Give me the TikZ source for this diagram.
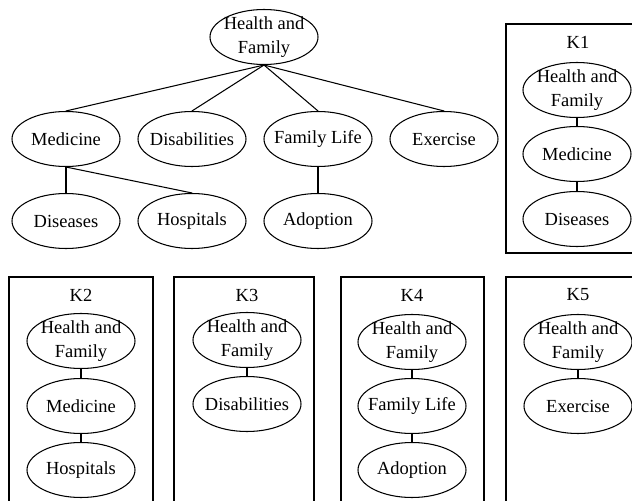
\documentclass[tikz,border=0pt]{standalone}
\usepackage{fontspec}
\setmainfont{Liberation Serif}
\usetikzlibrary{shapes.geometric}

\tikzset{
	topic/.style={ellipse, draw, line width=0.6pt, minimum width=2.16cm, minimum height=1.1cm, inner sep=-0.2cm, align=center, font=\fontsize{10.5}{13.7}\selectfont},
	cluster/.style={draw, line width=0.6pt},
	tag/.style={inner sep=0pt, font=\fontsize{10.5}{13.7}\selectfont}
}

\begin{document}
\begin{tikzpicture}[line width=0.6pt]
	\useasboundingbox (0,0) rectangle (12.64,-10.02);
	\clip (0,0) rectangle (12.64,-10.02);

	% full hierarchy
	\node[topic] (HF) at (5.28,-0.74) {Health and\\Family};
	\node[topic] (Med) at (1.32,-2.78) {Medicine};
	\node[topic] (Dis) at (3.84,-2.78) {Disabilities};
	\node[topic] (Fam) at (6.36,-2.78) {Family Life};
	\node[topic] (Exe) at (8.88,-2.78) {Exercise};
	\node[topic] (Dse) at (1.32,-4.42) {Diseases};
	\node[topic] (Hos) at (3.84,-4.42) {Hospitals};
	\node[topic] (Ado) at (6.36,-4.42) {Adoption};

	\draw (HF.south) -- (Med.north);
	\draw (HF.south) -- (Dis.north);
	\draw (HF.south) -- (Fam.north);
	\draw (HF.south) -- (Exe.north);
	\draw (Med.south) -- (Dse.north);
	\draw (Med.south) -- (Hos.north);
	\draw (Fam.south) -- (Ado.north);

	% K1
	\draw[cluster] (10.12,-0.48) rectangle (13.0,-5.06);
	\node[tag] (K1) at (11.56,-0.84) {K1};
	\node[topic] (K1a) at (11.54,-1.80) {Health and\\Family};
	\node[topic] (K1b) at (11.54,-3.08) {Medicine};
	\node[topic] (K1c) at (11.54,-4.38) {Diseases};
	\draw (K1a.south) -- (K1b.north);
	\draw (K1b.south) -- (K1c.north);

	% K2
	\draw[cluster] (0.18,-5.54) rectangle (3.06,-10.5);
	\node[tag] (K2) at (1.62,-5.90) {K2};
	\node[topic] (K2a) at (1.62,-6.82) {Health and\\Family};
	\node[topic] (K2b) at (1.62,-8.12) {Medicine};
	\node[topic] (K2c) at (1.62,-9.40) {Hospitals};
	\draw (K2a.south) -- (K2b.north);
	\draw (K2b.south) -- (K2c.north);

	% K3
	\draw[cluster] (3.48,-5.54) rectangle (6.28,-10.5);
	\node[tag] (K3) at (4.94,-5.90) {K3};
	\node[topic] (K3a) at (4.94,-6.80) {Health and\\Family};
	\node[topic] (K3b) at (4.94,-8.08) {Disabilities};
	\draw (K3a.south) -- (K3b.north);

	% K4
	\draw[cluster] (6.82,-5.54) rectangle (9.68,-10.5);
	\node[tag] (K4) at (8.24,-5.90) {K4};
	\node[topic] (K4a) at (8.24,-6.84) {Health and\\Family};
	\node[topic] (K4b) at (8.24,-8.12) {Family Life};
	\node[topic] (K4c) at (8.24,-9.40) {Adoption};
	\draw (K4a.south) -- (K4b.north);
	\draw (K4b.south) -- (K4c.north);

	% K5
	\draw[cluster] (10.12,-5.54) rectangle (13.0,-10.5);
	\node[tag] (K5) at (11.56,-5.90) {K5};
	\node[topic] (K5a) at (11.56,-6.84) {Health and\\Family};
	\node[topic] (K5b) at (11.56,-8.12) {Exercise};
	\draw (K5a.south) -- (K5b.north);
\end{tikzpicture}
\end{document}
